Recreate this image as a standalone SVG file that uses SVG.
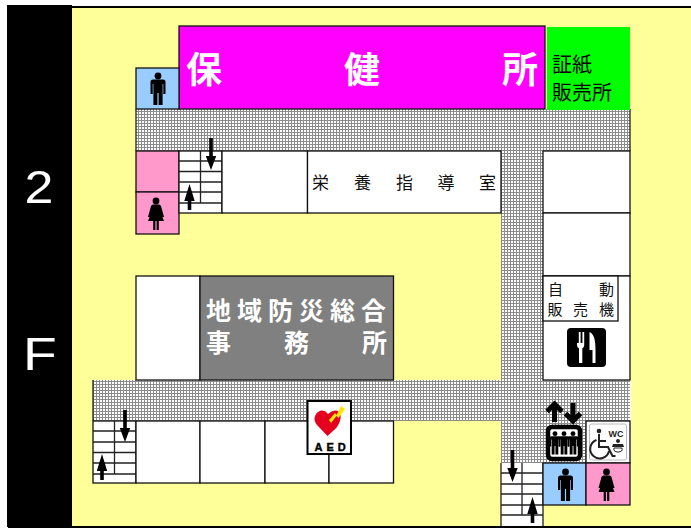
<svg xmlns="http://www.w3.org/2000/svg" width="691" height="529" viewBox="0 0 691 529">
<style>
.r{stroke:#111;stroke-width:1.3}
.w{fill:#fff}
.s{fill:none;stroke:#222;stroke-width:1.3}
text{font-family:"Noto Sans CJK JP","Noto Sans",sans-serif}
.lat{font-family:"Liberation Sans",Arial,sans-serif;fill:#fff;font-size:46px}
.big{fill:#fff;font-size:36px;font-weight:700}
.mid{fill:#fff;font-size:25px;font-weight:700}
.sm{fill:#111;font-size:15px}
.nu{fill:#111;font-size:17px}
.gr{fill:#000;font-size:20px}
</style>
<defs>
<pattern id="mesh" width="3" height="3" patternUnits="userSpaceOnUse">
<rect width="3" height="3" fill="#8c8c8c"/><rect x="1" y="1" width="2" height="2" fill="#fff"/>
</pattern>
<g id="man"><circle cx="0" cy="3" r="3.400"/><path d="M-7.500 9Q-7.500 6.500-5 6.500H5Q7.500 6.500 7.500 9V21H5.300V11H4.600V32H.6V20H-.6V32H-4.600V11H-5.300V21H-7.500Z"/></g>
<g id="woman"><circle cx="0" cy="3" r="3.400"/><path d="M-3 6.500H3Q4.500 6.500 5 8L8 19H6.200L4 13L8 23H2.800V32H.6V23H-.6V32H-2.800V23H-8L-4 13L-6.200 19H-8L-5 8Q-4.500 6.500-3 6.500Z"/></g>
<g id="up"><path d="M-1.800 24V15H-5.200L0 -2L5.200 15H1.800V24Z"/></g>
<g id="dn"><path d="M-1.800 -6H1.800V12H5.200L0 26L-5.200 12H-1.800Z"/></g>
</defs>
<g id="floor">
<rect x="72" y="7" width="619" height="520" fill="#ffff99"/>
<rect x="72" y="6" width="619" height="2" fill="#000"/>
<rect x="8" y="526" width="683" height="2" fill="#000"/>
<rect x="7" y="5" width="65" height="522" fill="#000"/>
</g>
<g id="floor-label"><text class="lat" transform="translate(24.500 203) scale(1.130 1)">2</text><text class="lat" transform="translate(23 370) scale(1.200 1)">F</text></g>
<g id="corridors">
<path d="M136 109H630V380H630V421H630V463H543V526H501V421H93V380H501V151H136Z" fill="url(#mesh)"/>
<path class="s" d="M136 109V151M630 109V151M93 380V421"/>
<path stroke="#fff" d="M630.500 380V505"/>
</g>
<g id="hokenjo"><rect class="r" x="179" y="26" width="366" height="83" fill="#ff00ff"/>
<text class="big" x="186" y="82.500">保</text><text class="big" x="344" y="82.500">健</text><text class="big" x="502" y="82.500">所</text></g>
<g id="stamps"><rect x="547" y="27" width="83" height="83" fill="#00ff00"/>
<text class="gr" x="552" y="72">証紙</text><text class="gr" x="552" y="99.500">販売所</text></g>
<g id="wc-men-north"><rect class="r" x="136" y="68" width="43" height="41" fill="#99ccff"/><use href="#man" x="158" y="73"/></g>
<g id="wc-women-north"><rect class="r" x="136" y="151" width="43" height="41" fill="#ff99cc"/><rect class="r" x="136" y="192" width="43" height="42" fill="#ff99cc"/><use href="#woman" x="156" y="198"/></g>
<g id="stairs-north"><rect class="r w" x="179" y="151" width="43" height="62"/>
<path class="s" d="M200.500 151V203M179 161H222M179 171.500H222M179 182H222M179 192H222M179 203H222"/>
<use href="#dn" x="211" y="144"/><use href="#up" x="189.500" y="186"/></g>
<g id="room-a"><rect class="r w" x="222" y="151" width="85.500" height="62"/></g>
<g id="nutrition"><rect class="r w" x="307.500" y="151" width="193.500" height="62"/>
<text class="nu" x="312" y="188.500">栄</text><text class="nu" x="354" y="188.500">養</text><text class="nu" x="396" y="188.500">指</text><text class="nu" x="437.500" y="188.500">導</text><text class="nu" x="479" y="188.500">室</text></g>
<g id="room-e1"><rect class="r w" x="543" y="151" width="87" height="62"/></g>
<g id="room-e2"><rect class="r w" x="543" y="213" width="87" height="63"/></g>
<g id="vending"><rect class="r w" x="543" y="276" width="87" height="104"/><rect class="r w" x="543" y="276" width="75" height="45"/>
<text class="sm" x="548" y="295">自</text><text class="sm" x="599" y="295">動</text><text class="sm" x="547.500" y="315">販</text><text class="sm" x="573" y="315">売</text><text class="sm" x="599" y="315">機</text>
<rect x="567" y="328" width="39" height="39" rx="4" fill="#000"/>
<path fill="#fff" d="M577 332V343H578.800V332H580.600V343H582.400V332H584.200V345Q584.200 348 582.300 348.500V363H579V348.500Q577 348 577 345V332H577ZM589.500 332Q595.500 334 595.500 350V363H592.500V350H589.500Z"/></g>
<g id="room-w"><rect class="r w" x="136" y="276" width="64" height="104"/></g>
<g id="disaster"><rect class="r" x="200" y="276" width="193.500" height="104" fill="#808080"/>
<text class="mid"><tspan x="206 237 268 299 330 361" y="320">地域防災総合</tspan><tspan x="206 284 362" y="351.500">事務所</tspan></text></g>
<g id="stairs-west"><rect class="r w" x="93" y="421" width="43" height="62"/>
<path class="s" d="M114.500 421V474M93 431H136M93 442H136M93 452.500H136M93 463H136M93 474H136"/>
<use href="#dn" x="125" y="416"/><use href="#up" x="102" y="456"/></g>
<g id="room-s1"><rect class="r w" x="136" y="421" width="64" height="62"/></g>
<g id="room-s2"><rect class="r w" x="200" y="421" width="65" height="62"/></g>
<g id="room-s3"><rect class="r w" x="265" y="421" width="64" height="62"/></g>
<g id="room-s4"><rect class="r w" x="329" y="421" width="64.500" height="62"/></g>
<g id="aed"><rect x="307.500" y="401" width="43.500" height="53" fill="#fff" stroke="#000" stroke-width="2"/>
<path fill="#e60020" d="M327.500 436L317 425Q313 420 315.500 415Q319 409 325 411L328 414Q333 409 338 411Q342 414 340 421Q338 427 333 431Z"/>
<path fill="#ffe600" d="M329 420L335 413L336.500 415L341 406L345 409L338.500 418L336.500 416L331 423Z"/>
<text x="314.500" y="450.500" font-size="11" font-weight="700" letter-spacing="4" fill="#000" stroke="#000" stroke-width=".4" style="font-family:'Liberation Sans',sans-serif">AED</text></g>
<g id="stairs-east"><rect x="501" y="463" width="42" height="63" fill="#fff"/>
<path class="s" d="M501 463V526M543 463V526M522 463V515M501 473H543M501 484H543M501 494H543M501 505H543M501 515H543"/>
<use href="#dn" x="512.500" y="456"/><use href="#up" x="532.500" y="499"/></g>
<g id="elevator"><rect x="548" y="427" width="32" height="32" rx="4" fill="#fff" stroke="#000" stroke-width="4.500"/>
<g id="elevator-people"><use href="#man" transform="translate(555 431.500) scale(.72)"/><use href="#man" transform="translate(564 431.500) scale(.72)"/><use href="#man" transform="translate(573 431.500) scale(.72)"/></g>
<path fill="none" stroke="#000" stroke-width="5" d="M554.500 422V404M547 411.500L554.500 404L562 411.500M573 403V421M565.500 413.500L573 421L580.500 413.500"/></g>
<g id="wc-access"><rect class="r w" x="586" y="421" width="44" height="42"/><rect x="589.500" y="424" width="37" height="36" rx="2" fill="#fff" stroke="#aaa" stroke-width=".8"/>
<circle cx="599" cy="431" r="2.300" fill="#222"/>
<path fill="none" stroke="#222" stroke-width="2" d="M599 434V447H608L612.500 456H615.500M596.500 440A9.500 9.500 0 1 0 609 451M599 441H606"/>
<text x="608.500" y="436.500" font-size="9" font-weight="700" fill="#222" style="font-family:'Liberation Sans',sans-serif">WC</text>
<circle cx="618" cy="441" r="2" fill="#222"/><path fill="#222" d="M613 444H623L624 447H612Z"/><path fill="none" stroke="#222" d="M614 448Q613 452 618 452Q623 452 622 448Z"/></g>
<g id="wc-men-east"><rect class="r" x="543" y="463" width="43" height="42" fill="#99ccff"/><use href="#man" x="565.500" y="469"/></g>
<g id="wc-women-east"><rect class="r" x="586" y="463" width="44" height="42" fill="#ff99cc"/><use href="#woman" x="606.500" y="469"/></g>
</svg>
